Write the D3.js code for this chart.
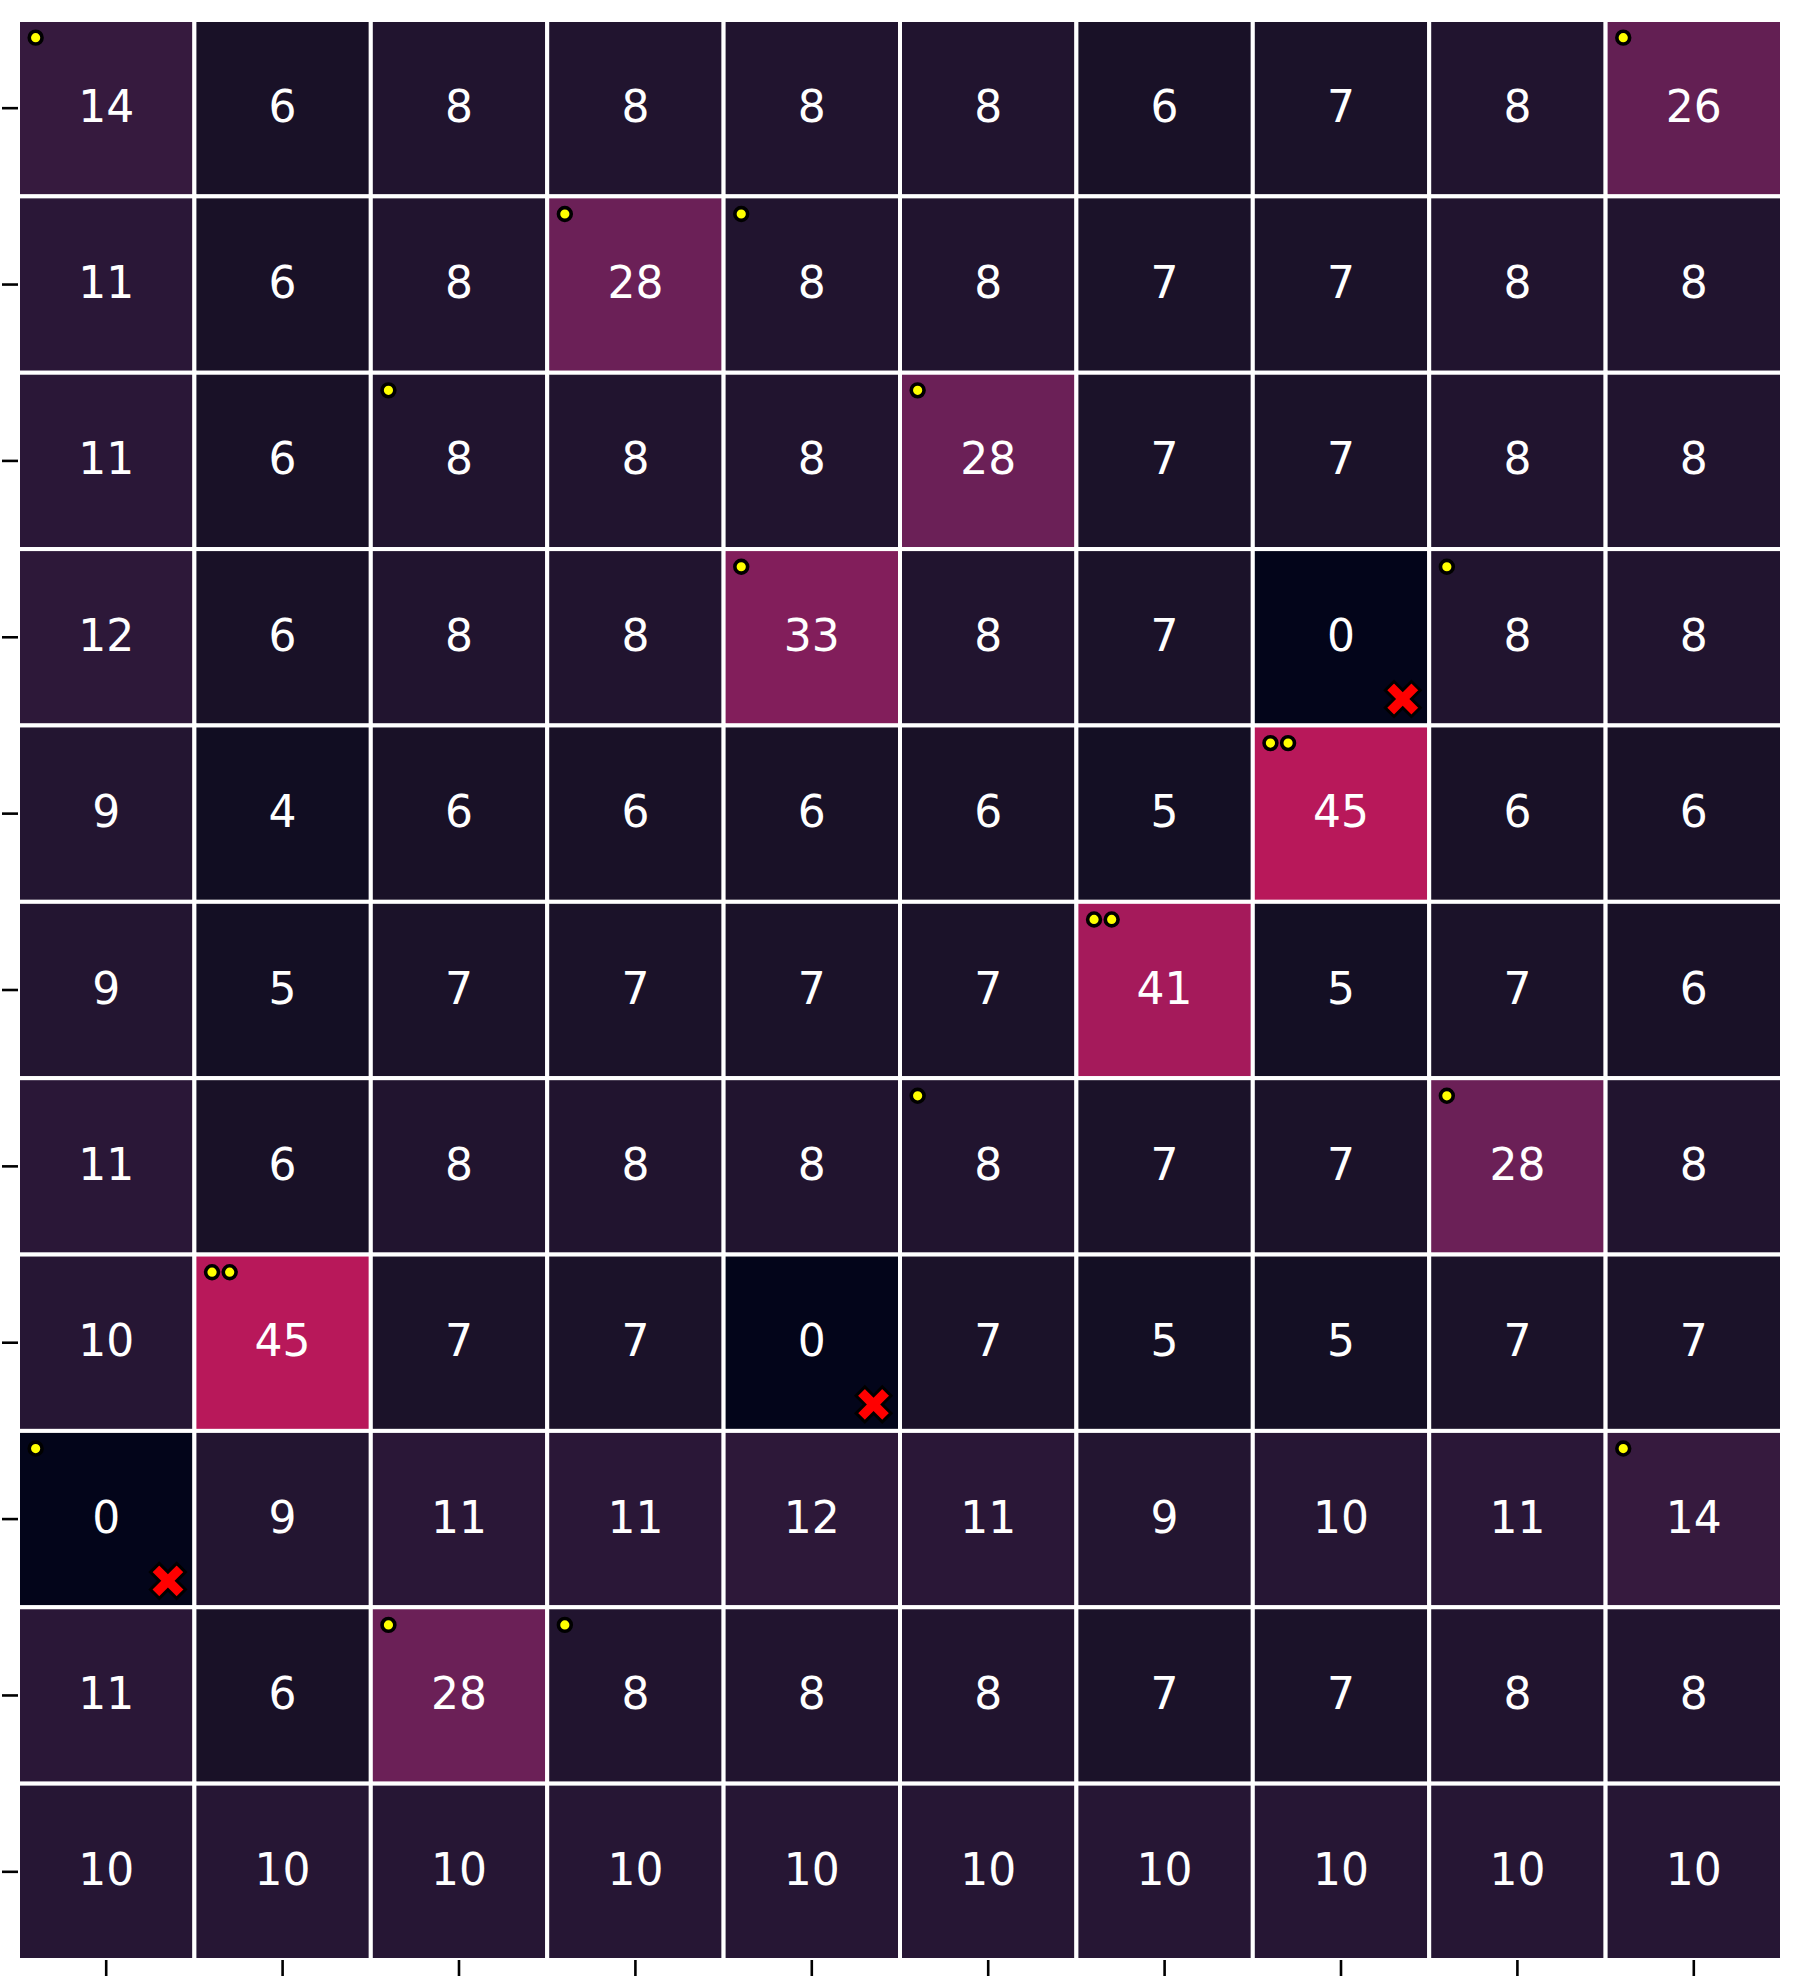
<!DOCTYPE html>
<html>
<head>
<meta charset="utf-8">
<script src="https://cdn.jsdelivr.net/npm/d3@7"></script>
<style>
  html, body { margin: 0; padding: 0; background: #ffffff; }
  svg { display: block; }
</style>
</head>
<body>
<div id="chart"></div>
<script>
// ---- data ----
const rowIds = [0, 1, 2, 3, 4, 5, 6, 7, 8, 9, 10];
const colIds = [0, 1, 2, 3, 4, 5, 6, 7, 8, 9];

const row0  = [14, 6, 8, 8, 8, 8, 6, 7, 8, 26];
const row1  = [11, 6, 8, 28, 8, 8, 7, 7, 8, 8];
const row2  = [11, 6, 8, 8, 8, 28, 7, 7, 8, 8];
const row3  = [12, 6, 8, 8, 33, 8, 7, 0, 8, 8];
const row4  = [9, 4, 6, 6, 6, 6, 5, 45, 6, 6];
const row5  = [9, 5, 7, 7, 7, 7, 41, 5, 7, 6];
const row6  = [11, 6, 8, 8, 8, 8, 7, 7, 28, 8];
const row7  = [10, 45, 7, 7, 0, 7, 5, 5, 7, 7];
const row8  = [0, 9, 11, 11, 12, 11, 9, 10, 11, 14];
const row9  = [11, 6, 28, 8, 8, 8, 7, 7, 8, 8];
const row10 = [10, 10, 10, 10, 10, 10, 10, 10, 10, 10];
const values = [row0, row1, row2, row3, row4, row5, row6, row7, row8, row9, row10];

// number of yellow markers in each cell's corner: [row, col, count]
const dotCells = [
  [0, 0, 1], [0, 9, 1],
  [1, 3, 1], [1, 4, 1],
  [2, 2, 1], [2, 5, 1],
  [3, 4, 1], [3, 8, 1],
  [4, 7, 2],
  [5, 6, 2],
  [6, 5, 1], [6, 8, 1],
  [7, 1, 2],
  [8, 0, 1], [8, 9, 1],
  [9, 2, 1], [9, 3, 1]
];
// cells carrying a red cross: [row, col]
const crossCells = [[3, 7], [7, 4], [8, 0]];

// colour stops (value -> colour)
const colorStopValues = [0, 4, 5, 6, 7, 8, 9, 10, 11, 12, 14, 28, 33, 41, 45];
const colorStopColors = ["#03051a", "#110d22", "#140f24", "#191127", "#1b1229", "#21142f",
  "#231531", "#261634", "#2a1737", "#2d1839", "#361a3e", "#6b2057", "#821e5b", "#a51a5b", "#b8185a"];

// ---- layout ----
const W = 1800, H = 1980;
const gx0 = 18, gx1 = 1782, gy0 = 20, gy1 = 1960;

const svg = d3.select("#chart").append("svg")
  .attr("width", W).attr("height", H);
svg.append("rect").attr("width", W).attr("height", H).attr("fill", "#ffffff");

const x = d3.scaleBand().domain(colIds).range([gx0, gx1]).padding(0);
const y = d3.scaleBand().domain(rowIds).range([gy0, gy1]).padding(0);
const color = d3.scaleLinear().domain(colorStopValues).range(colorStopColors)
  .interpolate(d3.interpolateRgb).clamp(true);

const cells = [];
values.forEach((row, r) => row.forEach((v, c) => cells.push({ r, c, v })));

const g = svg.append("g");

g.selectAll("rect.cell").data(cells).join("rect")
  .attr("class", "cell")
  .attr("x", d => x(d.c))
  .attr("y", d => y(d.r))
  .attr("width", x.bandwidth())
  .attr("height", y.bandwidth())
  .attr("fill", d => color(d.v))
  .attr("stroke", "#ffffff")
  .attr("stroke-width", 4);

g.selectAll("text.val").data(cells).join("text")
  .attr("class", "val")
  .attr("x", d => x(d.c) + x.bandwidth() / 2)
  .attr("y", d => y(d.r) + y.bandwidth() / 2 + 13.5)
  .attr("text-anchor", "middle")
  .attr("font-family", "DejaVu Sans")
  .attr("font-size", 44)
  .attr("fill", "#ffffff")
  .text(d => d.v);

// yellow dots
const dots = [];
dotCells.forEach(([r, c, n]) => {
  for (let k = 0; k < n; k++) dots.push({ r, c, k });
});
g.selectAll("circle.dot").data(dots).join("circle")
  .attr("class", "dot")
  .attr("cx", d => x(d.c) + x.bandwidth() * (0.1 + 0.1 * d.k))
  .attr("cy", d => y(d.r) + y.bandwidth() * 0.1)
  .attr("r", 6.4)
  .attr("fill", "#ffff00")
  .attr("stroke", "#000000")
  .attr("stroke-width", 3.6);

// red crosses (filled X markers)
const a = 18.5, b = 6.2;
const plus = [[-b, -a], [b, -a], [b, -b], [a, -b], [a, b], [b, b], [b, a], [-b, a], [-b, b], [-a, b], [-a, -b], [-b, -b]];
const xPath = "M" + plus.map(p => p.join(",")).join("L") + "Z";
g.selectAll("path.cross").data(crossCells).join("path")
  .attr("class", "cross")
  .attr("d", xPath)
  .attr("transform", d => `translate(${x(d[1]) + x.bandwidth() * 0.85},${y(d[0]) + y.bandwidth() * 0.85}) rotate(45)`)
  .attr("fill", "#ff0000")
  .attr("stroke", "#000000")
  .attr("stroke-width", 3)
  .attr("stroke-linejoin", "miter");

// axes: ticks only, no labels
const yAxis = svg.append("g").attr("transform", `translate(${gx0},0)`)
  .call(d3.axisLeft(y).tickSize(16).tickFormat(""));
const xAxis = svg.append("g").attr("transform", `translate(0,${gy1})`)
  .call(d3.axisBottom(x).tickSize(16).tickFormat(""));
[yAxis, xAxis].forEach(ax => {
  ax.select(".domain").remove();
  ax.selectAll(".tick line").attr("stroke", "#000000").attr("stroke-width", 2.6);
});
</script>
</body>
</html>
